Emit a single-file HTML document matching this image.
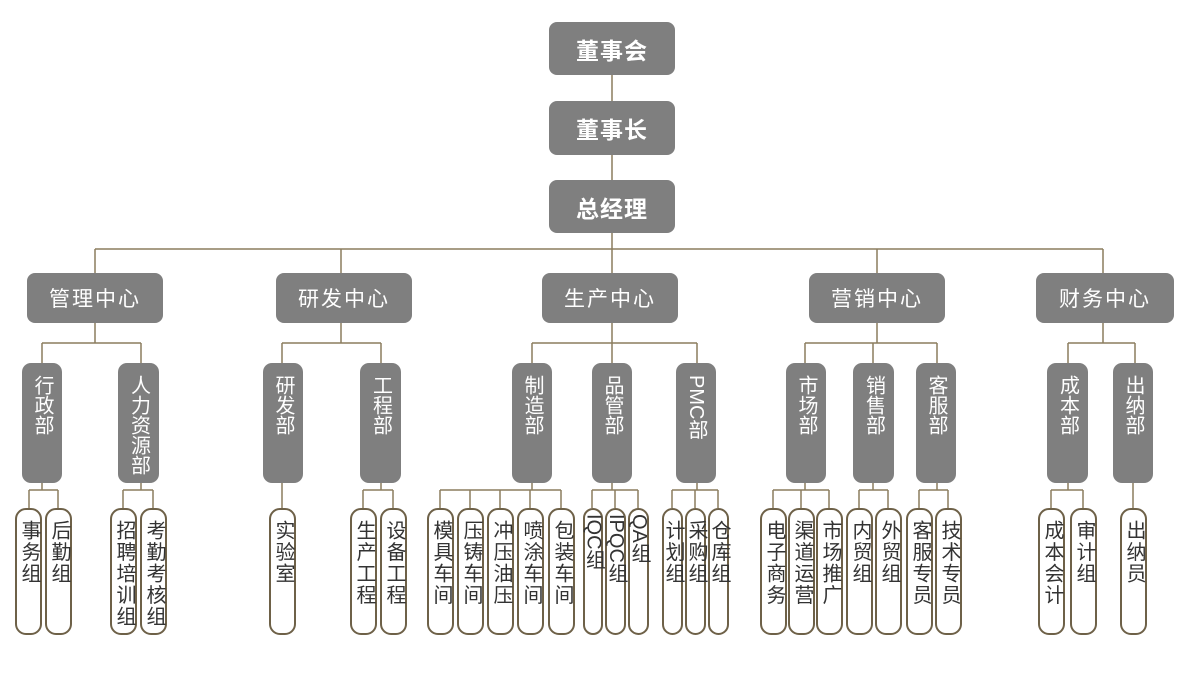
<!DOCTYPE html>
<html><head><meta charset="utf-8"><style>
body{margin:0;width:1200px;height:691px;background:#fff;position:relative;overflow:hidden;font-family:"Liberation Sans","Noto Sans CJK SC",sans-serif}
.g{position:absolute;background:#7f7f7f;color:#fff;border-radius:8px;display:flex;align-items:center;justify-content:center;box-sizing:border-box}
.t{font-weight:bold;font-size:23px;letter-spacing:1px}
.c{font-size:21px;letter-spacing:2px}
.d{border-radius:9px;writing-mode:vertical-rl;align-items:center;justify-content:flex-start;padding-top:12px;font-size:20px;line-height:40px}
.l{position:absolute;border:2px solid #6e6148;border-radius:11px;box-sizing:border-box;background:#fff;writing-mode:vertical-rl;font-size:20px;letter-spacing:1.5px;color:#333;line-height:23px;padding-top:10px;display:flex;align-items:center;justify-content:flex-start}
svg{position:absolute;left:0;top:0}
</style></head><body>
<svg width="1200" height="691"><g stroke="#8b7d5e" stroke-width="1.5" fill="none">
<path d="M612 75V101M612 155V180M612 233V249M95 249H1103M95 249V273M341 249V273M612 249V273M877 249V273M1103 249V273"/>
<path d="M95 323V343M42 343H141M42 343V363M141 343V363"/>
<path d="M341 323V343M282 343H381M282 343V363M381 343V363"/>
<path d="M612 323V343M532 343H697M532 343V363M612 343V363M697 343V363"/>
<path d="M877 323V343M805 343H937M805 343V363M873 343V363M937 343V363"/>
<path d="M1103 323V343M1068 343H1135M1068 343V363M1135 343V363"/>
<path d="M42 483V490M29 490H58M29 490V508M58 490V508"/>
<path d="M141 483V490M123 490H153M123 490V508M153 490V508"/>
<path d="M282 483V508M381 483V490M363 490H393M363 490V508M393 490V508"/>
<path d="M532 483V490M440 490H561M440 490V508M470 490V508M500 490V508M530 490V508M561 490V508"/>
<path d="M612 483V490M592 490H638M592 490V508M615 490V508M638 490V508"/>
<path d="M697 483V490M672 490H718M672 490V508M695 490V508M718 490V508"/>
<path d="M805 483V490M773 490H829M773 490V508M801 490V508M829 490V508"/>
<path d="M873 483V490M859 490H888M859 490V508M888 490V508"/>
<path d="M937 483V490M919 490H948M919 490V508M948 490V508"/>
<path d="M1068 483V490M1051 490H1083M1051 490V508M1083 490V508M1133 483V508"/>
</g></svg>
<div class="g t" style="left:549px;top:22px;width:126px;height:53px">董事会</div>
<div class="g t" style="left:549px;top:101px;width:126px;height:54px">董事长</div>
<div class="g t" style="left:549px;top:180px;width:126px;height:53px">总经理</div>
<div class="g c" style="left:27px;top:273px;width:136px;height:50px">管理中心</div>
<div class="g c" style="left:276px;top:273px;width:136px;height:50px">研发中心</div>
<div class="g c" style="left:542px;top:273px;width:136px;height:50px">生产中心</div>
<div class="g c" style="left:809px;top:273px;width:136px;height:50px">营销中心</div>
<div class="g c" style="left:1036px;top:273px;width:138px;height:50px">财务中心</div>

<div class="g d" style="left:22px;top:363px;width:40px;height:120px">行政部</div>
<div class="g d" style="left:118px;top:363px;width:41px;height:120px">人力资源部</div>
<div class="g d" style="left:263px;top:363px;width:40px;height:120px">研发部</div>
<div class="g d" style="left:360px;top:363px;width:41px;height:120px">工程部</div>
<div class="g d" style="left:512px;top:363px;width:40px;height:120px">制造部</div>
<div class="g d" style="left:592px;top:363px;width:40px;height:120px">品管部</div>
<div class="g d" style="left:676px;top:363px;width:40px;height:120px">PMC部</div>
<div class="g d" style="left:786px;top:363px;width:40px;height:120px">市场部</div>
<div class="g d" style="left:853px;top:363px;width:41px;height:120px">销售部</div>
<div class="g d" style="left:916px;top:363px;width:40px;height:120px">客服部</div>
<div class="g d" style="left:1047px;top:363px;width:41px;height:120px">成本部</div>
<div class="g d" style="left:1113px;top:363px;width:40px;height:120px">出纳部</div>

<div class="l" style="left:15px;top:508px;width:27px;height:127px">事务组</div>
<div class="l" style="left:45px;top:508px;width:27px;height:127px">后勤组</div>
<div class="l" style="left:110px;top:508px;width:27px;height:127px">招聘培训组</div>
<div class="l" style="left:140px;top:508px;width:27px;height:127px">考勤考核组</div>
<div class="l" style="left:269px;top:508px;width:27px;height:127px">实验室</div>
<div class="l" style="left:350px;top:508px;width:27px;height:127px">生产工程</div>
<div class="l" style="left:380px;top:508px;width:27px;height:127px">设备工程</div>
<div class="l" style="left:427px;top:508px;width:27px;height:127px">模具车间</div>
<div class="l" style="left:457px;top:508px;width:27px;height:127px">压铸车间</div>
<div class="l" style="left:487px;top:508px;width:27px;height:127px">冲压油压</div>
<div class="l" style="left:517px;top:508px;width:27px;height:127px">喷涂车间</div>
<div class="l" style="left:548px;top:508px;width:27px;height:127px">包装车间</div>
<div class="l" style="left:583px;top:508px;width:20px;height:127px;padding-top:4px;letter-spacing:0">IQC组</div>
<div class="l" style="left:605px;top:508px;width:21px;height:127px;padding-top:4px;letter-spacing:0">IPQC组</div>
<div class="l" style="left:628px;top:508px;width:21px;height:127px;padding-top:4px;letter-spacing:0">QA组</div>
<div class="l" style="left:662px;top:508px;width:21px;height:127px">计划组</div>
<div class="l" style="left:685px;top:508px;width:21px;height:127px">采购组</div>
<div class="l" style="left:708px;top:508px;width:21px;height:127px">仓库组</div>
<div class="l" style="left:760px;top:508px;width:27px;height:127px">电子商务</div>
<div class="l" style="left:788px;top:508px;width:27px;height:127px">渠道运营</div>
<div class="l" style="left:816px;top:508px;width:27px;height:127px">市场推广</div>
<div class="l" style="left:846px;top:508px;width:27px;height:127px">内贸组</div>
<div class="l" style="left:875px;top:508px;width:27px;height:127px">外贸组</div>
<div class="l" style="left:906px;top:508px;width:27px;height:127px">客服专员</div>
<div class="l" style="left:935px;top:508px;width:27px;height:127px">技术专员</div>
<div class="l" style="left:1038px;top:508px;width:27px;height:127px">成本会计</div>
<div class="l" style="left:1070px;top:508px;width:27px;height:127px">审计组</div>
<div class="l" style="left:1120px;top:508px;width:27px;height:127px">出纳员</div>
</body></html>
